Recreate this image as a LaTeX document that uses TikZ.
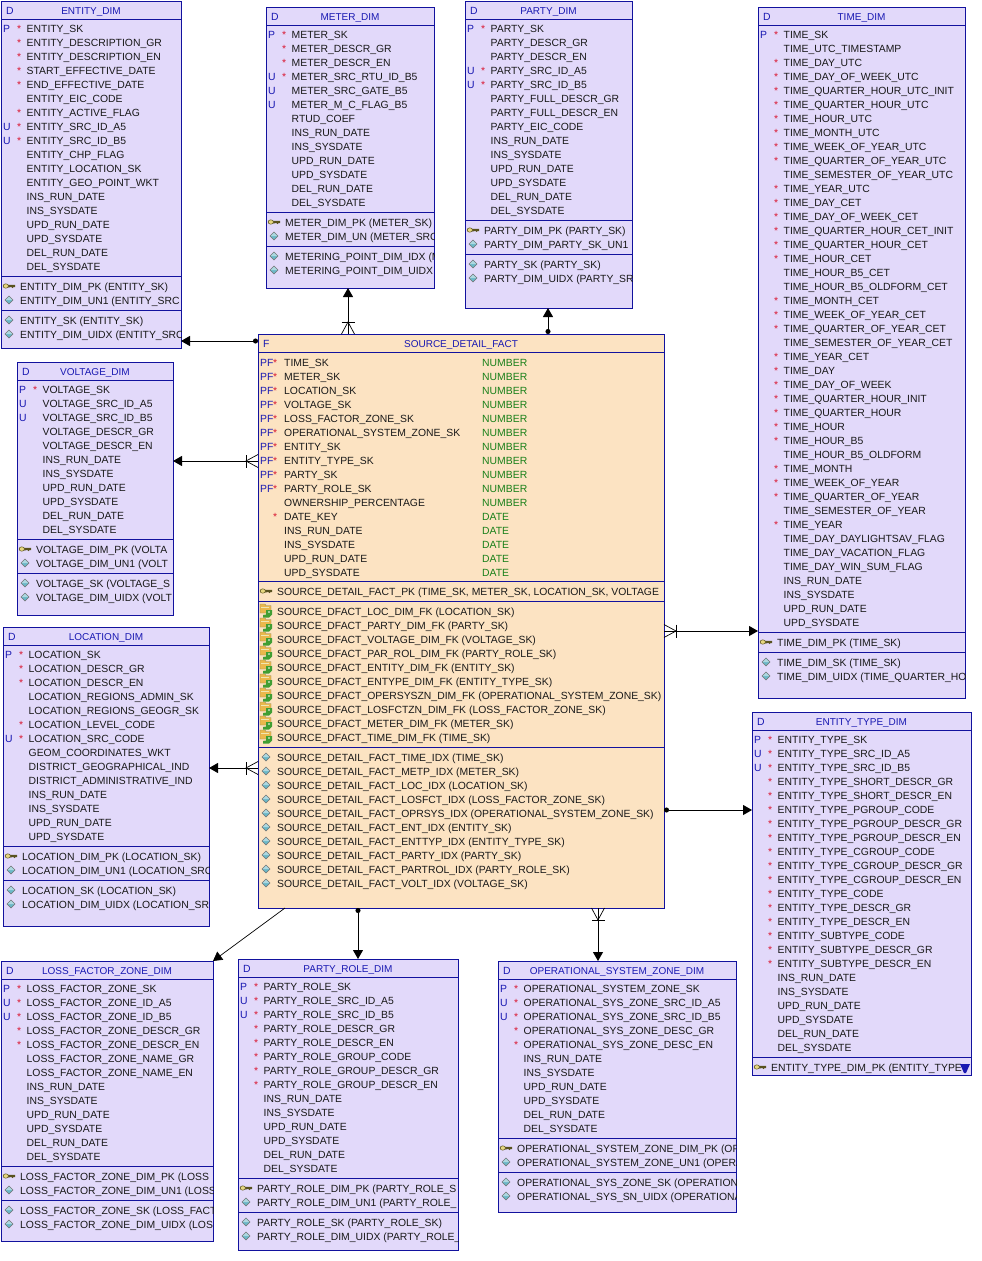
\documentclass[tikz,border=0pt]{standalone}
\usepackage{fontspec}
\setmainfont{Liberation Sans}
\usetikzlibrary{arrows.meta}
\definecolor{dimfill}{rgb}{0.885,0.85,0.98}
\definecolor{factfill}{rgb}{0.99,0.89,0.76}
\definecolor{edgeblue}{rgb}{0.07,0.07,0.62}
\definecolor{tagblue}{rgb}{0.1,0.1,0.7}
\definecolor{starred}{rgb}{0.85,0.1,0.2}
\definecolor{typegreen}{rgb}{0.1,0.5,0.1}
\definecolor{rowblack}{rgb}{0.1,0.1,0.1}
\definecolor{keyyellow}{rgb}{0.9,0.84,0.5}
\definecolor{keyedge}{rgb}{0.35,0.32,0.12}
\definecolor{fkgreen}{rgb}{0.25,0.62,0.2}
\definecolor{fkorange}{rgb}{0.92,0.72,0.3}
\definecolor{idxblue}{rgb}{0.42,0.72,0.78}
\catcode`\_=12
\tikzset{
	rowtxt/.style={anchor=base west,inner sep=0pt,font=\fontsize{10.4}{12}\selectfont,text=rowblack},
	tagtxt/.style={rowtxt,text=tagblue},
	startxt/.style={rowtxt,text=starred},
	typetxt/.style={rowtxt,text=typegreen},
	titletxt/.style={anchor=base,inner sep=0pt,font=\fontsize{10}{12}\selectfont,text=tagblue},
	tablebox/.style={draw=edgeblue,line width=1pt,outer sep=0pt,inner sep=0pt,anchor=north west},
	dimbox/.style={tablebox,fill=dimfill},
	factbox/.style={tablebox,fill=factfill},
	tableline/.style={draw=edgeblue,line width=1pt},
	fklink/.style={draw=black,line width=1pt,-{Triangle[width=10pt,length=9pt]}},
	fkdot/.style={fklink,{Circle[length=5pt]}-{Triangle[width=10pt,length=9pt]}},
	thinlink/.style={draw=black,line width=.7pt,-{Triangle[width=10pt,length=9pt]}},
	crowfoot/.pic={
		\draw[black,line width=.7pt] (0,-6.5) -- (12,0) -- (0,6.5);
		\draw[black,line width=.9pt] (12,-6.5) -- (12,6.5);
	},
	pkicon/.pic={
		\fill[keyedge] (-1,-1.2) -- (6,-1.2) -- (6,1) -- (4.5,1) -- (3.5,2) -- (2.5,1) -- (-1,1.5) -- cycle;
		\draw[fill=keyyellow,draw=keyedge,line width=.5pt] (-3.2,0) ellipse (2.7 and 2.2);
	},
	fkicon/.pic={
		\draw[fill=fkorange,draw=keyedge!70,line width=.3pt] (-6,-7) -- (-1,-7) -- (0,-5.5) -- (5,-5.5) -- (5,-1) -- (0,2) -- (-6,2) -- cycle;
		\fill[keyyellow!60] (-5,-4.5) rectangle (3,-3);
		\fill[fkgreen] (-3,4) -- (0,3.5) -- (0,-1) -- (6,-1) -- (6,3.5) -- (3,6.5) -- (-3,6.5) -- cycle;
		\fill[white,opacity=.5] (2,0) rectangle (4,1.5);
	},
	idxicon/.pic={
		\draw[fill=idxblue,draw=black!55,line width=.6pt] (0,-4) -- (4,0) -- (0,4) -- (-4,0) -- cycle;
		\fill[white,opacity=.45] (0,-3.4) -- (3.4,0) -- (-3.4,0) -- cycle;
	},
}
\newcommand{\dimtable}[8]{%
	\pgfmathsetmacro\boxw{#4-#2}
	\pgfmathsetmacro\boxh{#5-#3}
	\node[#8,minimum width=\boxw pt,minimum height=\boxh pt] (#1) at (#2,#3) {};
	\draw[tableline] (#1.west |- 0,#3+18) -- (#1.east |- 0,#3+18);
	\node[tagtxt] (#1_tag) at (#2+5,#3+13.7) {#6};
	\node[titletxt] (#1_title) at (#1.north |- 0,#3+13.7) {#7};
}
\newcommand{\colrows}[4]{%
	\foreach \p/\s/\t [count=\i] in {#4} {
		\pgfmathsetmacro\rowy{#3+14*\i-14+4.3}
		\node[tagtxt] (#1_p\i) at (#2+2,\rowy) {\p};
		\node[startxt] (#1_s\i) at (#2+16,\rowy) {\s};
		\node[rowtxt] (#1_c\i) at (#2+25.5,\rowy) {\t};
	}
}
\newcommand{\factrows}[4]{%
	\foreach \p/\s/\t/\ty [count=\i] in {#4} {
		\pgfmathsetmacro\rowy{#3+14*\i-14+4.3}
		\node[tagtxt] (#1_p\i) at (#2+2,\rowy) {\p};
		\node[startxt] (#1_s\i) at (#2+15,\rowy) {\s};
		\node[rowtxt] (#1_c\i) at (#2+26,\rowy) {\t};
		\node[typetxt] (#1_t\i) at (#2+224,\rowy) {\ty};
	}
}
\newcommand{\iconrows}[5]{%
	\foreach \t [count=\i] in {#5} {
		\pgfmathsetmacro\rowy{#3+14*\i-14}
		\pic at (#2+8,\rowy) {#4};
		\node[rowtxt] (#1_#4\i) at (#2+19,\rowy+4.3) {\t};
	}
}
\newcommand{\tablerule}[2]{\draw[tableline] (#1.west |- 0,#2) -- (#1.east |- 0,#2);}
\begin{document}
\begin{tikzpicture}[line cap=butt,line join=miter,x=1pt,y=-1pt]
	\useasboundingbox (0,0) rectangle (982,1261);
	\dimtable{entity}{1}{1}{181}{348}{D}{ENTITY_DIM}{dimbox}
	\begin{scope}
	\clip (entity.south west) rectangle (entity.north east);
	\colrows{entity}{1}{28}{P/*/ENTITY_SK,/*/ENTITY_DESCRIPTION_GR,/*/ENTITY_DESCRIPTION_EN,/*/START_EFFECTIVE_DATE,/*/END_EFFECTIVE_DATE,//ENTITY_EIC_CODE,/*/ENTITY_ACTIVE_FLAG,U/*/ENTITY_SRC_ID_A5,U/*/ENTITY_SRC_ID_B5,//ENTITY_CHP_FLAG,//ENTITY_LOCATION_SK,//ENTITY_GEO_POINT_WKT,//INS_RUN_DATE,//INS_SYSDATE,//UPD_RUN_DATE,//UPD_SYSDATE,//DEL_RUN_DATE,//DEL_SYSDATE}
	\iconrows{entity}{1}{286}{pkicon}{ENTITY_DIM_PK (ENTITY_SK)}
	\iconrows{entity}{1}{300}{idxicon}{ENTITY_DIM_UN1 (ENTITY_SRC}
	\iconrows{entity}{1}{320}{idxicon}{ENTITY_SK (ENTITY_SK),ENTITY_DIM_UIDX (ENTITY_SRC}
	\end{scope}
	\tablerule{entity}{276}
	\tablerule{entity}{310}

	\dimtable{meter}{266}{7}{434}{288}{D}{METER_DIM}{dimbox}
	\begin{scope}
	\clip (meter.south west) rectangle (meter.north east);
	\colrows{meter}{266}{34}{P/*/METER_SK,/*/METER_DESCR_GR,/*/METER_DESCR_EN,U/*/METER_SRC_RTU_ID_B5,U//METER_SRC_GATE_B5,U//METER_M_C_FLAG_B5,//RTUD_COEF,//INS_RUN_DATE,//INS_SYSDATE,//UPD_RUN_DATE,//UPD_SYSDATE,//DEL_RUN_DATE,//DEL_SYSDATE}
	\iconrows{meter}{266}{222}{pkicon}{METER_DIM_PK (METER_SK)}
	\iconrows{meter}{266}{236}{idxicon}{METER_DIM_UN (METER_SRC}
	\iconrows{meter}{266}{256}{idxicon}{METERING_POINT_DIM_IDX (M,METERING_POINT_DIM_UIDX (}
	\end{scope}
	\tablerule{meter}{212}
	\tablerule{meter}{246}

	\dimtable{party}{465}{1}{632}{308}{D}{PARTY_DIM}{dimbox}
	\begin{scope}
	\clip (party.south west) rectangle (party.north east);
	\colrows{party}{465}{28}{P/*/PARTY_SK,//PARTY_DESCR_GR,//PARTY_DESCR_EN,U/*/PARTY_SRC_ID_A5,U/*/PARTY_SRC_ID_B5,//PARTY_FULL_DESCR_GR,//PARTY_FULL_DESCR_EN,//PARTY_EIC_CODE,//INS_RUN_DATE,//INS_SYSDATE,//UPD_RUN_DATE,//UPD_SYSDATE,//DEL_RUN_DATE,//DEL_SYSDATE}
	\iconrows{party}{465}{230}{pkicon}{PARTY_DIM_PK (PARTY_SK)}
	\iconrows{party}{465}{244}{idxicon}{PARTY_DIM_PARTY_SK_UN1}
	\iconrows{party}{465}{264}{idxicon}{PARTY_SK (PARTY_SK),PARTY_DIM_UIDX (PARTY_SR}
	\end{scope}
	\tablerule{party}{220}
	\tablerule{party}{254}

	\dimtable{time}{758}{7}{965}{698}{D}{TIME_DIM}{dimbox}
	\begin{scope}
	\clip (time.south west) rectangle (time.north east);
	\colrows{time}{758}{34}{P/*/TIME_SK,//TIME_UTC_TIMESTAMP,/*/TIME_DAY_UTC,/*/TIME_DAY_OF_WEEK_UTC,/*/TIME_QUARTER_HOUR_UTC_INIT,/*/TIME_QUARTER_HOUR_UTC,/*/TIME_HOUR_UTC,/*/TIME_MONTH_UTC,/*/TIME_WEEK_OF_YEAR_UTC,/*/TIME_QUARTER_OF_YEAR_UTC,//TIME_SEMESTER_OF_YEAR_UTC,/*/TIME_YEAR_UTC,/*/TIME_DAY_CET,/*/TIME_DAY_OF_WEEK_CET,/*/TIME_QUARTER_HOUR_CET_INIT,/*/TIME_QUARTER_HOUR_CET,/*/TIME_HOUR_CET,//TIME_HOUR_B5_CET,//TIME_HOUR_B5_OLDFORM_CET,/*/TIME_MONTH_CET,/*/TIME_WEEK_OF_YEAR_CET,/*/TIME_QUARTER_OF_YEAR_CET,//TIME_SEMESTER_OF_YEAR_CET,/*/TIME_YEAR_CET,/*/TIME_DAY,/*/TIME_DAY_OF_WEEK,/*/TIME_QUARTER_HOUR_INIT,/*/TIME_QUARTER_HOUR,/*/TIME_HOUR,/*/TIME_HOUR_B5,//TIME_HOUR_B5_OLDFORM,/*/TIME_MONTH,/*/TIME_WEEK_OF_YEAR,/*/TIME_QUARTER_OF_YEAR,//TIME_SEMESTER_OF_YEAR,/*/TIME_YEAR,//TIME_DAY_DAYLIGHTSAV_FLAG,//TIME_DAY_VACATION_FLAG,//TIME_DAY_WIN_SUM_FLAG,//INS_RUN_DATE,//INS_SYSDATE,//UPD_RUN_DATE,//UPD_SYSDATE}
	\iconrows{time}{758}{642}{pkicon}{TIME_DIM_PK (TIME_SK)}
	\iconrows{time}{758}{662}{idxicon}{TIME_DIM_SK (TIME_SK),TIME_DIM_UIDX (TIME_QUARTER_HO}
	\end{scope}
	\tablerule{time}{632}
	\tablerule{time}{652}

	\dimtable{voltage}{17}{362}{173}{615}{D}{VOLTAGE_DIM}{dimbox}
	\begin{scope}
	\clip (voltage.south west) rectangle (voltage.north east);
	\colrows{voltage}{17}{389}{P/*/VOLTAGE_SK,U//VOLTAGE_SRC_ID_A5,U//VOLTAGE_SRC_ID_B5,//VOLTAGE_DESCR_GR,//VOLTAGE_DESCR_EN,//INS_RUN_DATE,//INS_SYSDATE,//UPD_RUN_DATE,//UPD_SYSDATE,//DEL_RUN_DATE,//DEL_SYSDATE}
	\iconrows{voltage}{17}{549}{pkicon}{VOLTAGE_DIM_PK (VOLTA}
	\iconrows{voltage}{17}{563}{idxicon}{VOLTAGE_DIM_UN1 (VOLT}
	\iconrows{voltage}{17}{583}{idxicon}{VOLTAGE_SK (VOLTAGE_S,VOLTAGE_DIM_UIDX (VOLT}
	\end{scope}
	\tablerule{voltage}{539}
	\tablerule{voltage}{573}

	\dimtable{location}{3}{627}{209}{926}{D}{LOCATION_DIM}{dimbox}
	\begin{scope}
	\clip (location.south west) rectangle (location.north east);
	\colrows{location}{3}{654}{P/*/LOCATION_SK,/*/LOCATION_DESCR_GR,/*/LOCATION_DESCR_EN,//LOCATION_REGIONS_ADMIN_SK,//LOCATION_REGIONS_GEOGR_SK,/*/LOCATION_LEVEL_CODE,U/*/LOCATION_SRC_CODE,//GEOM_COORDINATES_WKT,//DISTRICT_GEOGRAPHICAL_IND,//DISTRICT_ADMINISTRATIVE_IND,//INS_RUN_DATE,//INS_SYSDATE,//UPD_RUN_DATE,//UPD_SYSDATE}
	\iconrows{location}{3}{856}{pkicon}{LOCATION_DIM_PK (LOCATION_SK)}
	\iconrows{location}{3}{870}{idxicon}{LOCATION_DIM_UN1 (LOCATION_SRC}
	\iconrows{location}{3}{890}{idxicon}{LOCATION_SK (LOCATION_SK),LOCATION_DIM_UIDX (LOCATION_SR}
	\end{scope}
	\tablerule{location}{846}
	\tablerule{location}{880}

	\dimtable{losszone}{1}{961}{213}{1241}{D}{LOSS_FACTOR_ZONE_DIM}{dimbox}
	\begin{scope}
	\clip (losszone.south west) rectangle (losszone.north east);
	\colrows{losszone}{1}{988}{P/*/LOSS_FACTOR_ZONE_SK,U/*/LOSS_FACTOR_ZONE_ID_A5,U/*/LOSS_FACTOR_ZONE_ID_B5,/*/LOSS_FACTOR_ZONE_DESCR_GR,/*/LOSS_FACTOR_ZONE_DESCR_EN,//LOSS_FACTOR_ZONE_NAME_GR,//LOSS_FACTOR_ZONE_NAME_EN,//INS_RUN_DATE,//INS_SYSDATE,//UPD_RUN_DATE,//UPD_SYSDATE,//DEL_RUN_DATE,//DEL_SYSDATE}
	\iconrows{losszone}{1}{1176}{pkicon}{LOSS_FACTOR_ZONE_DIM_PK (LOSS}
	\iconrows{losszone}{1}{1190}{idxicon}{LOSS_FACTOR_ZONE_DIM_UN1 (LOSS}
	\iconrows{losszone}{1}{1210}{idxicon}{LOSS_FACTOR_ZONE_SK (LOSS_FACT,LOSS_FACTOR_ZONE_DIM_UIDX (LOS}
	\end{scope}
	\tablerule{losszone}{1166}
	\tablerule{losszone}{1200}

	\dimtable{partyrole}{238}{959}{458}{1250}{D}{PARTY_ROLE_DIM}{dimbox}
	\begin{scope}
	\clip (partyrole.south west) rectangle (partyrole.north east);
	\colrows{partyrole}{238}{986}{P/*/PARTY_ROLE_SK,U/*/PARTY_ROLE_SRC_ID_A5,U/*/PARTY_ROLE_SRC_ID_B5,/*/PARTY_ROLE_DESCR_GR,/*/PARTY_ROLE_DESCR_EN,/*/PARTY_ROLE_GROUP_CODE,/*/PARTY_ROLE_GROUP_DESCR_GR,/*/PARTY_ROLE_GROUP_DESCR_EN,//INS_RUN_DATE,//INS_SYSDATE,//UPD_RUN_DATE,//UPD_SYSDATE,//DEL_RUN_DATE,//DEL_SYSDATE}
	\iconrows{partyrole}{238}{1188}{pkicon}{PARTY_ROLE_DIM_PK (PARTY_ROLE_S}
	\iconrows{partyrole}{238}{1202}{idxicon}{PARTY_ROLE_DIM_UN1 (PARTY_ROLE_}
	\iconrows{partyrole}{238}{1222}{idxicon}{PARTY_ROLE_SK (PARTY_ROLE_SK),PARTY_ROLE_DIM_UIDX (PARTY_ROLE_}
	\end{scope}
	\tablerule{partyrole}{1178}
	\tablerule{partyrole}{1212}

	\dimtable{opzone}{498}{961}{736}{1212}{D}{OPERATIONAL_SYSTEM_ZONE_DIM}{dimbox}
	\begin{scope}
	\clip (opzone.south west) rectangle (opzone.north east);
	\colrows{opzone}{498}{988}{P/*/OPERATIONAL_SYSTEM_ZONE_SK,U/*/OPERATIONAL_SYS_ZONE_SRC_ID_A5,U/*/OPERATIONAL_SYS_ZONE_SRC_ID_B5,/*/OPERATIONAL_SYS_ZONE_DESC_GR,/*/OPERATIONAL_SYS_ZONE_DESC_EN,//INS_RUN_DATE,//INS_SYSDATE,//UPD_RUN_DATE,//UPD_SYSDATE,//DEL_RUN_DATE,//DEL_SYSDATE}
	\iconrows{opzone}{498}{1148}{pkicon}{OPERATIONAL_SYSTEM_ZONE_DIM_PK (OP}
	\iconrows{opzone}{498}{1162}{idxicon}{OPERATIONAL_SYSTEM_ZONE_UN1 (OPERA}
	\iconrows{opzone}{498}{1182}{idxicon}{OPERATIONAL_SYS_ZONE_SK (OPERATION,OPERATIONAL_SYS_SN_UIDX (OPERATIONA}
	\end{scope}
	\tablerule{opzone}{1138}
	\tablerule{opzone}{1172}

	\dimtable{entitytype}{752}{712}{971}{1075}{D}{ENTITY_TYPE_DIM}{dimbox}
	\begin{scope}
	\clip (entitytype.south west) rectangle (entitytype.north east);
	\colrows{entitytype}{752}{739}{P/*/ENTITY_TYPE_SK,U/*/ENTITY_TYPE_SRC_ID_A5,U/*/ENTITY_TYPE_SRC_ID_B5,/*/ENTITY_TYPE_SHORT_DESCR_GR,/*/ENTITY_TYPE_SHORT_DESCR_EN,/*/ENTITY_TYPE_PGROUP_CODE,/*/ENTITY_TYPE_PGROUP_DESCR_GR,/*/ENTITY_TYPE_PGROUP_DESCR_EN,/*/ENTITY_TYPE_CGROUP_CODE,/*/ENTITY_TYPE_CGROUP_DESCR_GR,/*/ENTITY_TYPE_CGROUP_DESCR_EN,/*/ENTITY_TYPE_CODE,/*/ENTITY_TYPE_DESCR_GR,/*/ENTITY_TYPE_DESCR_EN,/*/ENTITY_SUBTYPE_CODE,/*/ENTITY_SUBTYPE_DESCR_GR,/*/ENTITY_SUBTYPE_DESCR_EN,//INS_RUN_DATE,//INS_SYSDATE,//UPD_RUN_DATE,//UPD_SYSDATE,//DEL_RUN_DATE,//DEL_SYSDATE}
	\iconrows{entitytype}{752}{1067}{pkicon}{ENTITY_TYPE_DIM_PK (ENTITY_TYPE}
	\fill[tagblue] (960,1064) -- (970,1064) -- (966,1073) -- (964,1073) -- cycle;
	\end{scope}
	\tablerule{entitytype}{1057}

	\dimtable{fact}{258}{334}{664}{908}{F}{SOURCE_DETAIL_FACT}{factbox}
	\begin{scope}
	\clip (fact.south west) rectangle (fact.north east);
	\factrows{fact}{258}{362}{PF/*/TIME_SK/NUMBER,PF/*/METER_SK/NUMBER,PF/*/LOCATION_SK/NUMBER,PF/*/VOLTAGE_SK/NUMBER,PF/*/LOSS_FACTOR_ZONE_SK/NUMBER,PF/*/OPERATIONAL_SYSTEM_ZONE_SK/NUMBER,PF/*/ENTITY_SK/NUMBER,PF/*/ENTITY_TYPE_SK/NUMBER,PF/*/PARTY_SK/NUMBER,PF/*/PARTY_ROLE_SK/NUMBER,//OWNERSHIP_PERCENTAGE/NUMBER,/*/DATE_KEY/DATE,//INS_RUN_DATE/DATE,//INS_SYSDATE/DATE,//UPD_RUN_DATE/DATE,//UPD_SYSDATE/DATE}
	\iconrows{fact}{258}{591}{pkicon}{{SOURCE_DETAIL_FACT_PK (TIME_SK, METER_SK, LOCATION_SK, VOLTAGE}}
	\iconrows{fact}{258}{611}{fkicon}{SOURCE_DFACT_LOC_DIM_FK (LOCATION_SK),SOURCE_DFACT_PARTY_DIM_FK (PARTY_SK),SOURCE_DFACT_VOLTAGE_DIM_FK (VOLTAGE_SK),SOURCE_DFACT_PAR_ROL_DIM_FK (PARTY_ROLE_SK),SOURCE_DFACT_ENTITY_DIM_FK (ENTITY_SK),SOURCE_DFACT_ENTYPE_DIM_FK (ENTITY_TYPE_SK),SOURCE_DFACT_OPERSYSZN_DIM_FK (OPERATIONAL_SYSTEM_ZONE_SK),SOURCE_DFACT_LOSFCTZN_DIM_FK (LOSS_FACTOR_ZONE_SK),SOURCE_DFACT_METER_DIM_FK (METER_SK),SOURCE_DFACT_TIME_DIM_FK (TIME_SK)}
	\iconrows{fact}{258}{757}{idxicon}{SOURCE_DETAIL_FACT_TIME_IDX (TIME_SK),SOURCE_DETAIL_FACT_METP_IDX (METER_SK),SOURCE_DETAIL_FACT_LOC_IDX (LOCATION_SK),SOURCE_DETAIL_FACT_LOSFCT_IDX (LOSS_FACTOR_ZONE_SK),SOURCE_DETAIL_FACT_OPRSYS_IDX (OPERATIONAL_SYSTEM_ZONE_SK),SOURCE_DETAIL_FACT_ENT_IDX (ENTITY_SK),SOURCE_DETAIL_FACT_ENTTYP_IDX (ENTITY_TYPE_SK),SOURCE_DETAIL_FACT_PARTY_IDX (PARTY_SK),SOURCE_DETAIL_FACT_PARTROL_IDX (PARTY_ROLE_SK),SOURCE_DETAIL_FACT_VOLT_IDX (VOLTAGE_SK)}
	\end{scope}
	\tablerule{fact}{581}
	\tablerule{fact}{601}
	\tablerule{fact}{747}

	\draw[fkdot] (fact.west |- 0,341) -- (entity.east |- 0,341);
	\draw[fklink] (fact.north -| 348,0) -- (meter.south -| 348,0);
	\draw[fkdot] (fact.north -| 548,0) -- (party.south -| 548,0);
	\draw[fklink] (fact.west |- 0,461) -- (voltage.east |- 0,461);
	\draw[fklink] (fact.west |- 0,768) -- (location.east |- 0,768);
	\draw[fklink] (fact.east |- 0,631) -- (time.west |- 0,631);
	\draw[fkdot] (fact.east |- 0,810) -- (entitytype.west |- 0,810);
	\draw[thinlink] (fact.south -| 285,0) -- (losszone.north east);
	\draw[fkdot] (fact.south -| 358,0) -- (partyrole.north -| 358,0);
	\draw[fklink] (fact.south -| 598,0) -- (opzone.north -| 598,0);
	\pic[rotate=90] at (fact.north -| 348,0) {crowfoot};
	\pic[rotate=180] at (fact.west |- 0,461) {crowfoot};
	\pic[rotate=180] at (fact.west |- 0,768) {crowfoot};
	\pic at (fact.east |- 0,631) {crowfoot};
	\pic[rotate=-90] at (fact.south -| 598,0) {crowfoot};
\end{tikzpicture}
\end{document}
